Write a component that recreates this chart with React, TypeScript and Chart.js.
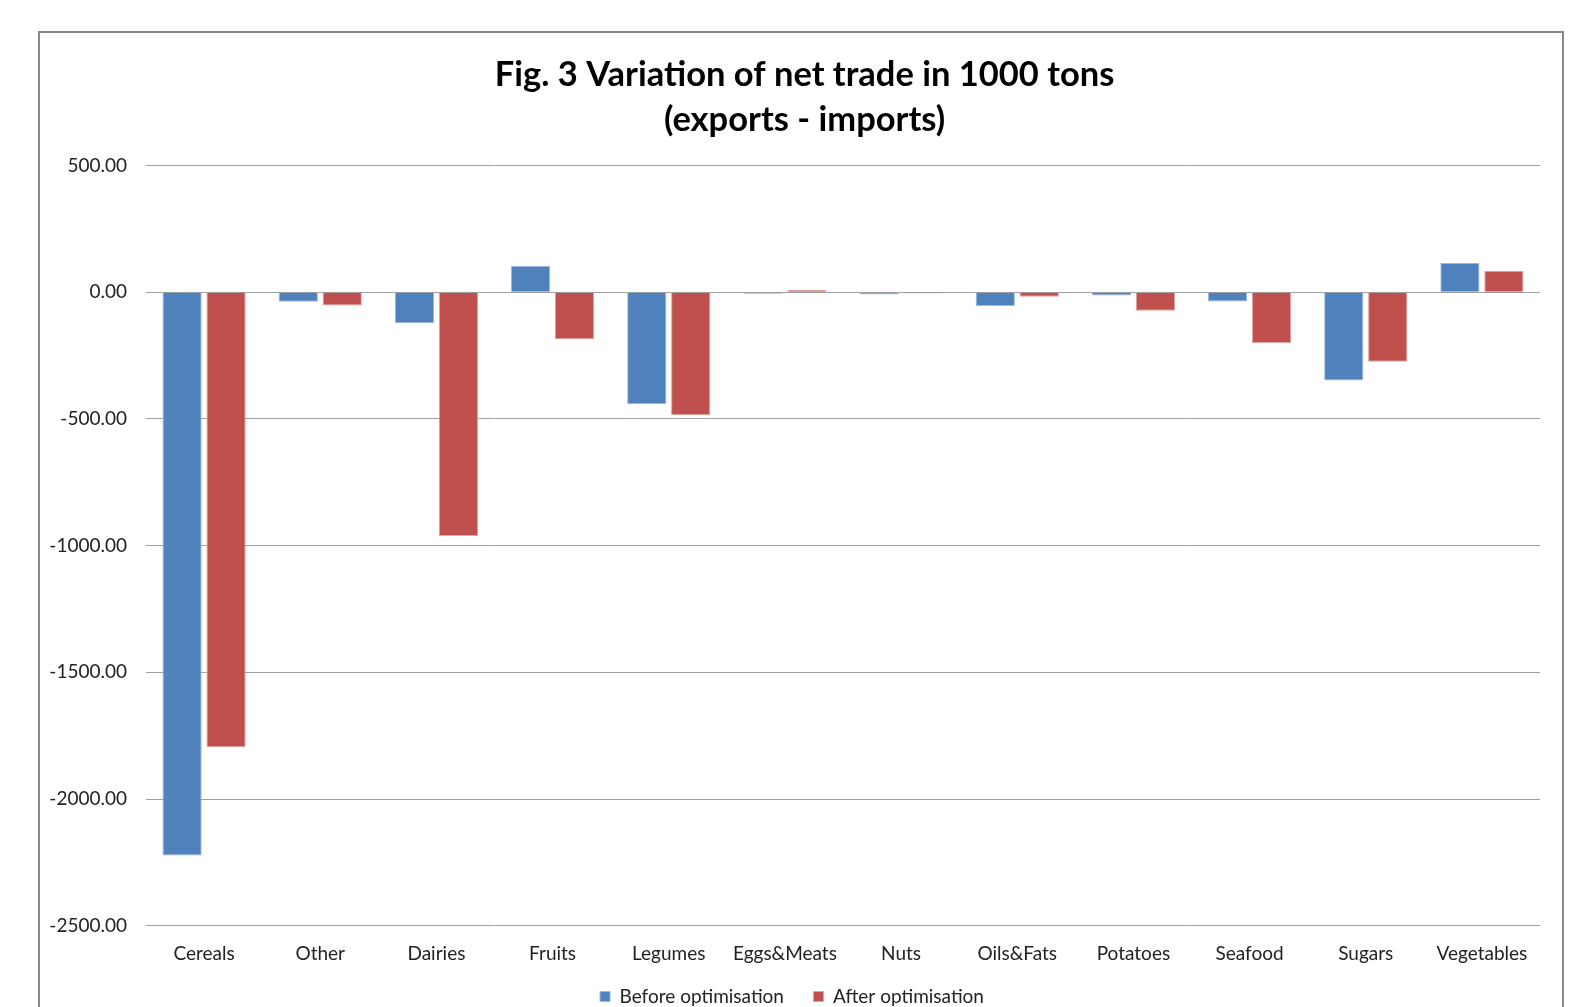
import React, { useEffect, useRef } from "react";
import { Chart, registerables } from "chart.js";

Chart.register(...registerables);

const categories = [
  "Cereals", "Other", "Dairies", "Fruits", "Legumes", "Eggs&Meats",
  "Nuts", "Oils&Fats", "Potatoes", "Seafood", "Sugars", "Vegetables",
];
const beforeValues = [-2223, -38, -123, 104, -442, -6, -9, -54, -13, -37, -348, 115];
const afterValues = [-1796, -52, -962, -186, -486, 9, -5, -18, -73, -200, -274, 85];
const titleLines = ["Fig. 3 Variation of net trade in 1000 tons", "(exports - imports)"];
const seriesNames = ["Before optimisation", "After optimisation"];

const FONT = "Lato, 'Open Sans', sans-serif";
// leading spaces nudge the centred title slightly right, as in the original
const PAD = "   ";

export default function App() {
  const ref = useRef<HTMLCanvasElement | null>(null);

  useEffect(() => {
    if (!ref.current) return;
    const chart = new Chart(ref.current, {
      type: "bar",
      data: {
        labels: categories,
        datasets: [
          {
            label: seriesNames[0],
            data: beforeValues,
            backgroundColor: "#4F81BD",
            borderColor: "#9CB8DC",
            borderWidth: 1,
            barPercentage: 0.893,
            categoryPercentage: 0.757,
          },
          {
            label: seriesNames[1],
            data: afterValues,
            backgroundColor: "#C0504D",
            borderColor: "#E2A3A1",
            borderWidth: 1,
            barPercentage: 0.893,
            categoryPercentage: 0.757,
          },
        ],
      },
      options: {
        responsive: false,
        animation: false,
        layout: { padding: { left: 44, right: 33, top: 0, bottom: 0 } },
        plugins: {
          title: {
            display: true,
            text: titleLines.map((t) => PAD + t),
            color: "#000",
            font: { family: FONT, size: 34.5, weight: "bold", lineHeight: "45px" },
            padding: { top: 52, bottom: 23.5 },
          },
          legend: {
            position: "bottom",
            labels: {
              boxWidth: 10,
              boxHeight: 10,
              padding: 10,
              color: "#222",
              font: { family: FONT, size: 19 },
              generateLabels: (c: any) => {
                const items = Chart.defaults.plugins.legend.labels.generateLabels(c);
                if (items.length > 1) items[0].text = items[0].text + "    ";
                return items;
              },
            },
          },
          tooltip: { enabled: false },
        },
        scales: {
          x: {
            grid: { display: false, drawTicks: false },
            border: { display: false },
            ticks: {
              color: "#222",
              padding: 17,
              maxRotation: 0,
              font: { family: FONT, size: 19 },
            },
            afterFit: (s: any) => {
              s.height = 51.3;
            },
          },
          y: {
            min: -2500,
            max: 500,
            grid: { color: "#A0A0A0", lineWidth: 1, drawTicks: false },
            border: { display: false },
            ticks: {
              stepSize: 500,
              color: "#222",
              padding: 19,
              font: { family: FONT, size: 19 },
              callback: (v: any) => Number(v).toFixed(2),
            },
            afterFit: (s: any) => {
              s.width = 102;
            },
          },
        },
      },
    });
    return () => chart.destroy();
  }, []);

  return (
    <div style={{ position: "absolute", left: 0, top: 0, width: 1573, height: 1007, overflow: "hidden", background: "#fff" }}>
      <div
        style={{
          position: "absolute",
          left: 38,
          top: 31,
          width: 1522,
          height: 1100,
          border: "2px solid #878787",
        }}
      />
      <canvas ref={ref} width={1573} height={1016} style={{ position: "absolute", left: 0, top: 0 }} />
    </div>
  );
}
